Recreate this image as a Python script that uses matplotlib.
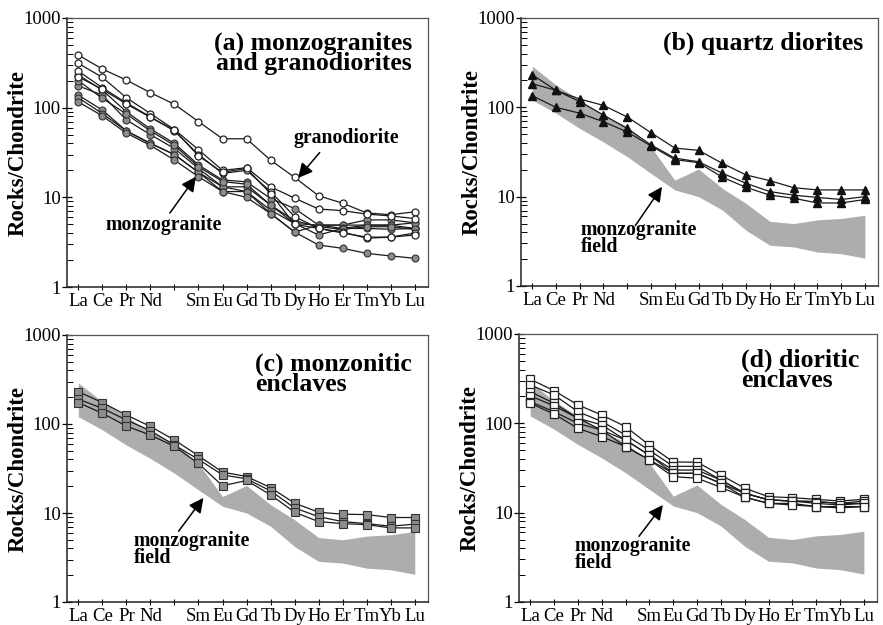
import numpy as np
import matplotlib.pyplot as plt
from matplotlib.ticker import LogLocator, NullFormatter

plt.rcParams['font.family'] = ['Liberation Serif', 'DejaVu Serif']

# REE order, Pm has a tick but no label
ree = ['La', 'Ce', 'Pr', 'Nd', '', 'Sm', 'Eu', 'Gd', 'Tb', 'Dy', 'Ho', 'Er', 'Tm', 'Yb', 'Lu']
x = np.arange(len(ree))

# monzogranite field (grey band in b, c, d)
field_upper = [290, 178, 121, 82, 61, 36, 15.3, 20.4, 12.4, 8.4, 5.3, 5.0, 5.5, 5.7, 6.2]
field_lower = [121, 86, 58, 41, 28, 18.2, 11.9, 10.0, 7.1, 4.2, 2.86, 2.74, 2.4, 2.3, 2.05]

# (a) granodiorites / monzogranites, hollow circles
a_open = [
    [386, 270, 203, 147, 109, 70, 45, 45, 26, 16.7, 10.4, 8.6, 6.7, 6.4, 6.9],
    [312, 218, 129, 86, 57, 34, 20, 21.4, 13.1, 9.8, 7.4, 7.1, 6.5, 6.2, 5.8],
    [256, 167, 113, 79, 55, 30, 18.5, 20, 11.6, 6.1, 4.5, 4.1, 3.5, 3.6, 4.0],
    [221, 160, 110, 78, 56, 29, 19, 21, 11, 5.0, 4.5, 4.0, 3.6, 3.6, 3.8],
]
# (a) filled grey circles
a_fill = [
    [231, 157, 90, 58, 40, 23, 15.6, 14.9, 9.7, 7.5, 4.9, 4.9, 5.6, 5.6, 5.2],
    [175, 138, 73, 50, 35, 21, 13.1, 13.1, 8.2, 5.1, 4.9, 4.9, 4.9, 4.9, 4.5],
    [138, 94, 55, 40, 30, 19, 13.1, 11.6, 7.2, 5.1, 3.8, 4.5, 4.5, 4.4, 4.5],
    [129, 86, 55, 40, 30, 19, 11.6, 11.6, 6.6, 4.1, 4.9, 4.5, 4.9, 4.9, 5.2],
    [116, 81, 52, 38, 26, 17, 11.6, 10.0, 6.6, 4.1, 2.94, 2.7, 2.37, 2.22, 2.09],
    [200, 127, 85, 55, 38, 22, 15.0, 14.0, 8.2, 5.5, 4.7, 4.4, 4.7, 4.7, 4.4],
]
# (b) quartz diorites, triangles
b_data = [
    [232, 155, 124, 105, 78, 52, 35, 33, 23.6, 17.5, 15.1, 12.6, 11.9, 11.9, 11.9],
    [184, 155, 116, 82, 58, 38, 27, 24.6, 18.3, 14.1, 11.4, 10.4, 9.8, 9.3, 10.0],
    [135, 100, 86, 69, 53, 37, 26, 24, 16.5, 12.7, 10.4, 9.6, 8.5, 8.5, 9.3],
]
# (c) monzonitic enclaves, grey squares
c_data = [
    [231, 174, 126, 94, 66, 44, 28.8, 25.7, 19.3, 12.9, 10.2, 9.7, 9.6, 8.9, 8.9],
    [190, 150, 111, 84, 58, 40, 26.8, 24.2, 17.7, 11.4, 9.1, 8.0, 7.6, 7.1, 7.5],
    [174, 132, 95, 75, 56, 36, 20.2, 23.2, 16.0, 10.2, 8.0, 7.6, 7.4, 6.8, 6.8],
]
# (d) dioritic enclaves, open squares
d_data = [
    [312, 232, 161, 124, 92, 57, 37, 36.7, 26.4, 18.8, 15.1, 14.7, 14.1, 13.5, 14.1],
    [269, 208, 135, 105, 74, 50, 33, 33, 23.2, 16.5, 13.9, 13.5, 13.3, 12.7, 12.7],
    [226, 168, 114, 96, 65, 44, 30, 30, 23.2, 16.5, 13.9, 13.5, 13.3, 12.7, 13.5],
    [203, 157, 114, 84, 65, 44, 27.6, 27.6, 21.3, 14.9, 12.7, 12.7, 11.7, 11.7, 11.7],
    [175, 135, 100, 84, 55, 39, 27.6, 27.6, 21.3, 16.5, 13.9, 13.5, 12.7, 12.2, 12.7],
    [168, 127, 88, 71, 55, 39, 25.3, 24.3, 19.2, 14.9, 12.7, 12.2, 11.7, 11.3, 11.7],
]

FIELD_C = '#adadad'
LINE_C = '#1a1a1a'
TITLE_FS = 18.5
NOTE_FS = 14.2
TICK_FS = 13.5

fig = plt.figure(figsize=(8.83, 6.25), dpi=100)
W, H = 883, 625
def box(l, r, t, b):
    return [l / W, 1 - b / H, (r - l) / W, (b - t) / H]

axa = fig.add_axes(box(67, 428, 18, 287))
axb = fig.add_axes(box(521, 878, 18, 286))
axc = fig.add_axes(box(67, 428, 335, 602))
axd = fig.add_axes(box(519, 877, 334, 602))

def setup(ax, label_x):
    ax.set_yscale('log')
    ax.set_ylim(1, 1000)
    ax.set_xlim(-0.47, 14.55)
    ax.set_xticks(x)
    ax.set_xticklabels(ree, fontsize=TICK_FS)
    ax.set_yticks([1, 10, 100, 1000])
    ax.set_yticklabels(['1', '10', '100', '1000'], fontsize=TICK_FS)
    ax.yaxis.set_minor_locator(LogLocator(base=10, subs=np.arange(2, 10)))
    ax.yaxis.set_minor_formatter(NullFormatter())
    ax.tick_params(axis='y', which='major', direction='inout', length=7, width=0.9, pad=1)
    ax.tick_params(axis='y', which='minor', direction='in', length=4, width=0.7)
    ax.tick_params(axis='x', which='major', direction='inout', length=5, width=0.8, pad=2)
    ax.set_ylabel('Rocks/Chondrite', fontsize=16.5, fontweight='bold')
    ax.yaxis.set_label_coords(label_x, 0.5)
    for s in ['left', 'bottom']:
        ax.spines[s].set_color('#222222')
        ax.spines[s].set_linewidth(1.1)
    for s in ['top', 'right']:
        ax.spines[s].set_color('#555555')
        ax.spines[s].set_linewidth(0.9)

def field(ax):
    ax.fill_between(x, field_lower, field_upper, color=FIELD_C, lw=0, zorder=1)

def arrow(ax, tail, head):
    ax.annotate('', xy=head, xytext=tail, xycoords='axes fraction',
                textcoords='axes fraction',
                arrowprops=dict(arrowstyle='-|>', color='black', lw=1.1,
                                mutation_scale=22, shrinkA=0, shrinkB=0))

setup(axa, -0.105)
setup(axb, -0.106)
setup(axc, -0.105)
setup(axd, -0.106)

# panel a
for s in a_fill:
    axa.plot(x, s, '-o', color=LINE_C, lw=0.9, ms=5, mfc='#8c8c8c', mec='#333333', mew=0.8, zorder=3)
for s in a_open:
    axa.plot(x, s, '-o', color=LINE_C, lw=0.9, ms=5, mfc='white', mec='#222222', mew=0.9, zorder=4)
axa.text(0.955, 0.95, '(a) monzogranites\nand granodiorites', transform=axa.transAxes,
         ha='right', va='top', fontsize=TITLE_FS, fontweight='bold', linespacing=0.82)
axa.text(0.773, 0.555, 'granodiorite', transform=axa.transAxes, ha='center', va='center',
         fontsize=NOTE_FS, fontweight='bold')
arrow(axa, (0.70, 0.50), (0.64, 0.405))
axa.text(0.267, 0.23, 'monzogranite', transform=axa.transAxes, ha='center', va='center',
         fontsize=NOTE_FS, fontweight='bold')
arrow(axa, (0.285, 0.275), (0.357, 0.41))

# panel b
field(axb)
for s in b_data:
    axb.plot(x, s, '-^', color=LINE_C, lw=0.9, ms=6, mfc='#111111', mec='#111111', zorder=3)
axb.text(0.958, 0.905, '(b) quartz diorites', transform=axb.transAxes, ha='right', va='center',
         fontsize=TITLE_FS, fontweight='bold')
axb.text(0.168, 0.245, 'monzogranite\nfield', transform=axb.transAxes, ha='left', va='top',
         fontsize=NOTE_FS, fontweight='bold', linespacing=0.8)
arrow(axb, (0.32, 0.225), (0.395, 0.37))

# panel c
field(axc)
for s in c_data:
    axc.plot(x, s, '-s', color=LINE_C, lw=0.9, ms=5.5, mfc='#8c8c8c', mec='#333333', mew=0.8, zorder=3)
axc.text(0.52, 0.935, '(c) monzonitic\nenclaves', transform=axc.transAxes, ha='left', va='top',
         fontsize=TITLE_FS, fontweight='bold', linespacing=0.82)
axc.text(0.184, 0.265, 'monzogranite\nfield', transform=axc.transAxes, ha='left', va='top',
         fontsize=NOTE_FS, fontweight='bold', linespacing=0.8)
arrow(axc, (0.309, 0.265), (0.378, 0.39))

# panel d
field(axd)
for s in d_data:
    axd.plot(x, s, '-s', color=LINE_C, lw=0.9, ms=5.5, mfc='white', mec='#222222', mew=0.9, zorder=3)
axd.text(0.62, 0.945, '(d) dioritic\nenclaves', transform=axd.transAxes, ha='left', va='top',
         fontsize=TITLE_FS, fontweight='bold', linespacing=0.82)
axd.text(0.156, 0.245, 'monzogranite\nfield', transform=axd.transAxes, ha='left', va='top',
         fontsize=NOTE_FS, fontweight='bold', linespacing=0.8)
arrow(axd, (0.335, 0.245), (0.402, 0.362))

fig.savefig('out.png', dpi=100)
